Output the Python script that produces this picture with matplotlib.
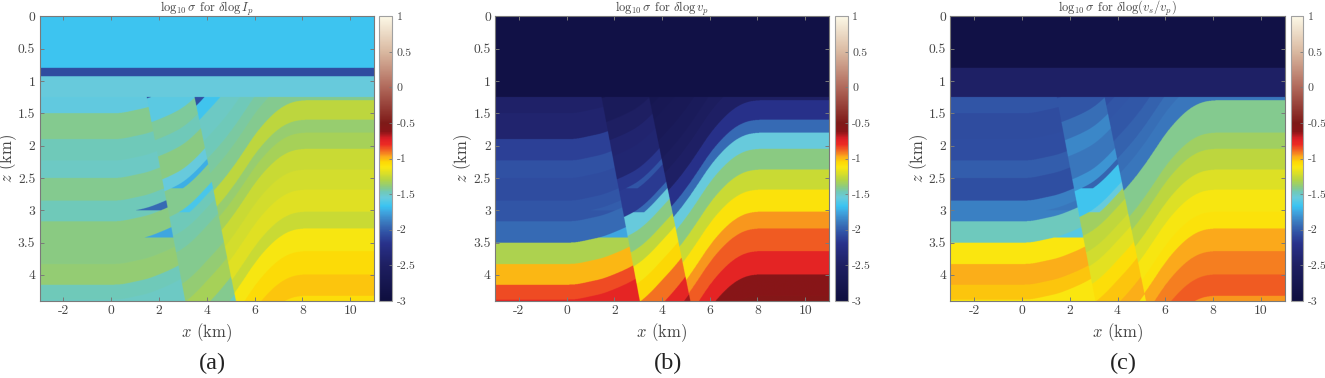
import numpy as np
import matplotlib
matplotlib.use('Agg')
import matplotlib.pyplot as plt
from matplotlib.colors import LinearSegmentedColormap

plt.rcParams['mathtext.fontset'] = 'cm'
plt.rcParams['font.family'] = ['cmr10', 'DejaVu Serif']
plt.rcParams['axes.formatter.use_mathtext'] = True

W, H = 1325, 378
TXT = '#454545'
EDGE = '#7a7a7a'

# colormap (value, colour)
cmap_vals = [-3, -2.5, -2.2, -2.05, -1.9, -1.75, -1.67, -1.55, -1.47, -1.4, -1.3, -1.2, -1.12,
             -1.05, -0.97, -0.9, -0.8, -0.72, -0.62, -0.5, 0, 0.5, 1]
cmap_cols = ['#0e0e3e', '#1e1f62', '#28318a', '#3050a3', '#3a78bd', '#3fa6e0', '#3ac4f2', '#68cbdc',
             '#70c9b8', '#8ccb80', '#b4d445', '#dde026', '#fbe70f', '#fdd805', '#fba81c', '#f37022',
             '#ec2a24', '#dc1e26', '#8a1518', '#7e1a18', '#b0685a', '#d9b8a0', '#fcf8e6']

# structure: how far the layers climb with x, and the two faults
rise_x = [-3, 0.3, 0.5, 1, 1.5, 2, 2.5, 3, 3.5, 4, 4.5, 5, 5.5, 6, 6.5, 7, 7.5, 8, 11]
rise_z = [0, 0, 0.01, 0.05, 0.09, 0.16, 0.24, 0.34, 0.5, 0.7, 0.9, 1.13, 1.4, 1.68, 1.9, 2.07, 2.17, 2.2, 2.2]
fault_z = [1.25, 4.4]
fault1_x = [1.46, 3.07]
fault2_x = [3.46, 5.19]

# layer tops, in unfolded depth
water_tops = [0.8, 0.93, 1.25]
left_tops = [1.5, 1.9, 2.23, 2.5, 2.85, 3.17, 3.5, 3.83, 4.15, 4.38]
mid_tops = [1.36, 1.75, 2.05, 2.32, 2.7, 2.9, 3.0, 3.33, 3.45, 3.65, 3.93, 4.17, 4.47, 4.78, 5.15, 5.5]
right_tops = [1.9, 2.17, 2.57, 2.9, 3.17, 3.5, 3.8, 4.0, 4.25, 4.57, 4.88, 5.22, 5.48, 5.83, 6.19, 6.52]

# log10 sigma per layer
water_a = [-1.66, -2.07, -1.55]
water_b = [-2.88, -2.88, -2.88]
water_c = [-2.88, -2.47, -2.47]
left_a = [-1.57, -1.42, -1.47, -1.5, -1.42, -1.47, -1.4, -1.4, -1.38, -1.47, -1.5]
left_b = [-2.45, -2.4, -2.12, -2.04, -2.07, -2.03, -1.95, -1.32, -1.0, -0.85, -0.77]
left_c = [-2.03, -2.07, -2.06, -2.0, -2.05, -1.87, -1.48, -1.12, -0.98, -1.02, -1.12]
mid_a = [-2.1, -1.58, -1.43, -1.47, -1.4, -1.55, -1.42, -1.42, -1.47, -1.47, -1.45, -1.42, -1.42, -1.38, -1.33, -1.42, -1.48]
mid_b = [-2.75, -2.6, -2.5, -2.4, -2.38, -2.17, -2.15, -2.15, -1.55, -1.55, -1.4, -1.27, -1.13, -1.05, -0.9, -0.77, -0.65]
mid_c = [-2.1, -2.03, -1.93, -1.85, -1.9, -1.8, -1.65, -1.65, -1.35, -1.35, -1.27, -1.23, -1.18, -1.08, -1.02, -0.98, -1.12]
right_a = [-2.05, -1.65, -1.5, -1.47, -1.44, -1.42, -1.28, -1.37, -1.33, -1.25, -1.22, -1.19, -1.25, -1.13, -1.07, -1.02, -1.08]
right_b = [-2.72, -2.68, -2.65, -2.6, -2.55, -2.48, -2.2, -1.95, -1.55, -1.4, -1.25, -1.1, -0.95, -0.87, -0.76, -0.6, -0.57]
right_c = [-2.06, -2.03, -2.02, -1.98, -1.93, -1.9, -1.42, -1.42, -1.35, -1.28, -1.2, -1.13, -1.1, -0.97, -0.92, -0.87, -0.95]

# thin cells cut off flat at the top: top, bottom, flat depth
left_cuts = [(3.05, 3.17, 3.0), (3.5, 3.83, 3.42)]
mid_cuts = [(2.9, 3.0, 2.66), (3.33, 3.45, 3.03)]
left_cut_a = [-1.95, -1.75]
left_cut_b = [-2.0, -1.75]
left_cut_c = [-1.9, -1.6]
mid_cut_a = [-1.72, -1.63]
mid_cut_b = [-2.03, -1.95]
mid_cut_c = [-1.97, -1.55]

titles = [r'$\log_{10}\sigma$ for $\delta\log I_p$', r'$\log_{10}\sigma$ for $\delta\log v_p$',
          r'$\log_{10}\sigma$ for $\delta\log(v_s/v_p)$']
captions = ['(a)', '(b)', '(c)']
x_ticks = [-2, 0, 2, 4, 6, 8, 10]
z_ticks = [0, 0.5, 1, 1.5, 2, 2.5, 3, 3.5, 4]
z_labels = ['0', '0.5', '1', '1.5', '2', '2.5', '3', '3.5', '4']
cb_ticks = [-3, -2.5, -2, -1.5, -1, -0.5, 0, 0.5, 1]
cb_labels = ['-3', '-2.5', '-2', '-1.5', '-1', '-0.5', '0', '0.5', '1']

panels = [(water_a, left_a, mid_a, right_a, left_cut_a, mid_cut_a),
          (water_b, left_b, mid_b, right_b, left_cut_b, mid_cut_b),
          (water_c, left_c, mid_c, right_c, left_cut_c, mid_cut_c)]
ax_px = [(39.5, 374), (495, 829), (950.3, 1284.7)]
cb_px = [(378.7, 392.3), (835.3, 848), (1291, 1303.3)]
cap_x = [212, 668, 1123]

cmap = LinearSegmentedColormap.from_list(
    'sigma', [((v + 3) / 4, c) for v, c in zip(cmap_vals, cmap_cols)], N=512)


def px_axes(fig, x0, x1, y0=16.3, y1=300.8):
    return fig.add_axes([x0 / W, 1 - y1 / H, (x1 - x0) / W, (y1 - y0) / H])


def build_field(water, left, mid, right, left_cut, mid_cut):
    xs = np.linspace(-3, 11, 1400)
    zs = np.linspace(0, 4.4, 880)
    X, Z = np.meshgrid(xs, zs)
    # round off the corners of the rise table
    n = 51
    rise = np.interp(xs, rise_x, rise_z)
    rise = np.convolve(np.pad(rise, n // 2, mode='edge'), np.ones(n) / n, mode='valid')
    ref = Z + rise[None, :]
    is_left = X < np.interp(Z, fault_z, fault1_x)
    is_right = X >= np.interp(Z, fault_z, fault2_x)
    is_mid = ~is_left & ~is_right

    field = np.array(right)[np.searchsorted(right_tops, ref, side='right')]
    field[is_mid] = np.array(mid)[np.searchsorted(mid_tops, ref[is_mid], side='right')]
    field[is_left] = np.array(left)[np.searchsorted(left_tops, ref[is_left], side='right')]
    for (top, bot, flat), val in zip(left_cuts, left_cut):
        field[is_left & (ref >= top) & (ref < bot) & (Z < flat)] = val
    for (top, bot, flat), val in zip(mid_cuts, mid_cut):
        field[is_mid & (ref >= top) & (ref < bot) & (Z < flat)] = val
    above = Z < water_tops[-1]
    field[above] = np.array(water)[np.searchsorted(water_tops, Z[above], side='right')]
    return field


fig = plt.figure(figsize=(W / 100, H / 100), dpi=100, facecolor='white')

for i, p in enumerate(panels):
    ax = px_axes(fig, *ax_px[i])
    im = ax.imshow(build_field(*p), extent=[-3, 11, 4.4, 0], aspect='auto', cmap=cmap, vmin=-3, vmax=1,
                   interpolation='antialiased')
    ax.set_xticks(x_ticks)
    ax.set_xticklabels([str(t) for t in x_ticks])
    ax.set_yticks(z_ticks)
    ax.set_yticklabels(z_labels)
    ax.tick_params(direction='in', length=3, width=0.7, color=EDGE, labelcolor=TXT, labelsize=9.8,
                   top=True, right=True, pad=3)
    for s in ax.spines.values():
        s.set_color(EDGE)
        s.set_linewidth(0.8)
    ax.set_xlabel(r'$x$ (km)', fontsize=12, color=TXT, labelpad=3)
    ax.set_ylabel(r'$z$ (km)', fontsize=12, color=TXT)
    ax.yaxis.set_label_coords(-0.062, 0.5)
    ax.set_title(titles[i], fontsize=9, color=TXT, pad=3)

    cax = px_axes(fig, *cb_px[i])
    cb = fig.colorbar(im, cax=cax)
    cb.set_ticks(cb_ticks)
    cb.set_ticklabels(cb_labels)
    cb.ax.tick_params(direction='in', length=2, width=0.6, color=EDGE, labelcolor=TXT, labelsize=8.5, pad=3)
    cb.outline.set_edgecolor('#a0a0a0')
    cb.outline.set_linewidth(0.8)

    fig.text(cap_x[i] / W, 1 - 363 / H, captions[i], ha='center', va='center', fontsize=17.5,
             family='Liberation Serif', color='#222222')

fig.savefig('out.png', dpi=100)
